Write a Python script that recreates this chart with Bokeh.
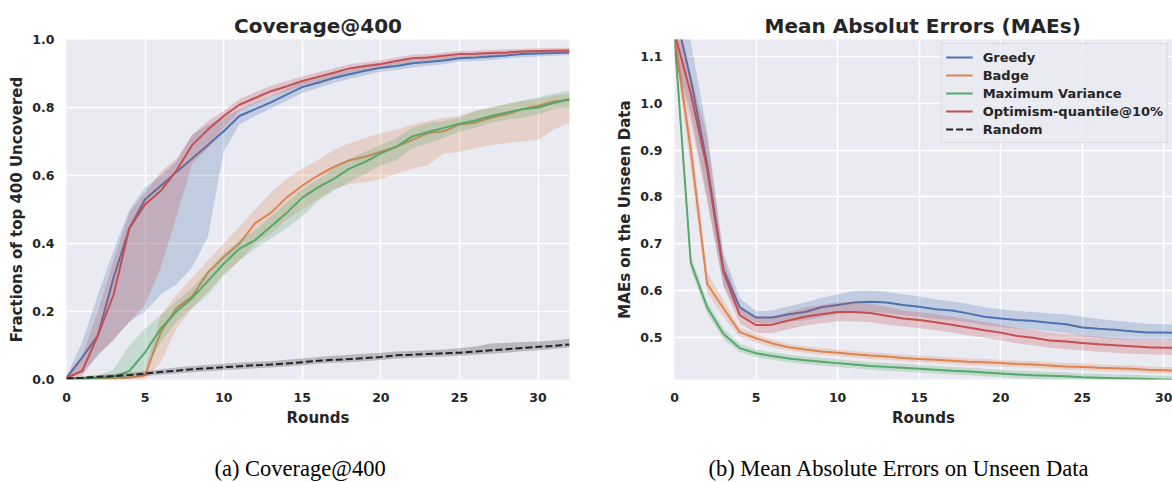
from bokeh.plotting import figure
from bokeh.models import Legend, LegendItem, Range1d, FixedTicker
from bokeh.layouts import row, column
from bokeh.embed import file_html
from bokeh.resources import INLINE

# ---------------- data ----------------
rounds = list(range(33))

series_names = ["Greedy", "Badge", "Maximum Variance", "Optimism-quantile@10%", "Random"]
series_colors = ["#4C72B0", "#DD8452", "#55A868", "#C44E52", "#222222"]
captions = ["(a) Coverage@400", "(b) Mean Absolute Errors on Unseen Data"]

# Coverage@400 (left)
cov_greedy = [0.005, 0.065, 0.13, 0.30, 0.445, 0.53, 0.57, 0.61, 0.65, 0.69, 0.73, 0.775, 0.795, 0.815, 0.838, 0.86, 0.873, 0.887, 0.898, 0.908, 0.917, 0.922, 0.93, 0.934, 0.938, 0.945, 0.947, 0.95, 0.953, 0.957, 0.959, 0.96, 0.962]
cov_greedy_lo = [0.0, 0.02, 0.07, 0.12, 0.17, 0.20, 0.25, 0.28, 0.33, 0.42, 0.67, 0.75, 0.775, 0.797, 0.82, 0.843, 0.857, 0.872, 0.884, 0.895, 0.905, 0.91, 0.918, 0.923, 0.927, 0.935, 0.937, 0.94, 0.944, 0.948, 0.95, 0.952, 0.954]
cov_greedy_hi = [0.01, 0.11, 0.25, 0.38, 0.50, 0.565, 0.60, 0.64, 0.72, 0.75, 0.77, 0.795, 0.815, 0.833, 0.855, 0.875, 0.888, 0.9, 0.91, 0.92, 0.928, 0.933, 0.94, 0.944, 0.948, 0.954, 0.956, 0.959, 0.962, 0.965, 0.967, 0.968, 0.969]

cov_badge = [0.003, 0.003, 0.003, 0.003, 0.005, 0.012, 0.14, 0.21, 0.245, 0.315, 0.36, 0.40, 0.46, 0.49, 0.535, 0.57, 0.60, 0.625, 0.645, 0.655, 0.67, 0.685, 0.705, 0.725, 0.73, 0.75, 0.755, 0.77, 0.78, 0.795, 0.805, 0.818, 0.822]
cov_badge_lo = [0.0, 0.0, 0.0, 0.0, 0.0, 0.0, 0.05, 0.15, 0.21, 0.26, 0.31, 0.35, 0.40, 0.43, 0.47, 0.50, 0.53, 0.56, 0.575, 0.58, 0.59, 0.605, 0.62, 0.63, 0.665, 0.67, 0.68, 0.69, 0.695, 0.70, 0.705, 0.735, 0.755]
cov_badge_hi = [0.005, 0.005, 0.005, 0.005, 0.01, 0.03, 0.19, 0.25, 0.30, 0.35, 0.40, 0.45, 0.50, 0.55, 0.59, 0.62, 0.645, 0.675, 0.695, 0.71, 0.725, 0.735, 0.75, 0.76, 0.77, 0.775, 0.79, 0.80, 0.81, 0.82, 0.825, 0.835, 0.84]

cov_maxvar = [0.003, 0.003, 0.005, 0.008, 0.025, 0.08, 0.15, 0.20, 0.24, 0.29, 0.34, 0.385, 0.41, 0.45, 0.49, 0.535, 0.565, 0.59, 0.62, 0.64, 0.665, 0.685, 0.715, 0.728, 0.74, 0.752, 0.762, 0.775, 0.785, 0.795, 0.80, 0.813, 0.825]
cov_maxvar_lo = [0.0, 0.0, 0.0, 0.0, 0.005, 0.03, 0.11, 0.17, 0.21, 0.25, 0.305, 0.35, 0.385, 0.415, 0.445, 0.48, 0.525, 0.555, 0.58, 0.605, 0.63, 0.645, 0.68, 0.695, 0.71, 0.73, 0.74, 0.755, 0.765, 0.77, 0.78, 0.795, 0.80]
cov_maxvar_hi = [0.005, 0.005, 0.01, 0.03, 0.10, 0.15, 0.19, 0.23, 0.27, 0.32, 0.37, 0.41, 0.44, 0.48, 0.52, 0.56, 0.59, 0.62, 0.65, 0.67, 0.69, 0.71, 0.74, 0.755, 0.76, 0.77, 0.79, 0.80, 0.81, 0.82, 0.83, 0.84, 0.85]

cov_optim = [0.005, 0.025, 0.13, 0.25, 0.445, 0.515, 0.555, 0.615, 0.69, 0.735, 0.775, 0.808, 0.828, 0.848, 0.862, 0.878, 0.89, 0.902, 0.915, 0.922, 0.928, 0.937, 0.945, 0.947, 0.952, 0.957, 0.958, 0.96, 0.962, 0.965, 0.966, 0.967, 0.968]
cov_optim_lo = [0.0, 0.01, 0.075, 0.115, 0.17, 0.22, 0.33, 0.48, 0.635, 0.68, 0.74, 0.79, 0.81, 0.832, 0.847, 0.863, 0.876, 0.889, 0.902, 0.91, 0.917, 0.926, 0.934, 0.937, 0.942, 0.947, 0.949, 0.951, 0.954, 0.957, 0.958, 0.959, 0.96]
cov_optim_hi = [0.01, 0.07, 0.20, 0.35, 0.49, 0.55, 0.61, 0.65, 0.72, 0.76, 0.79, 0.825, 0.845, 0.864, 0.877, 0.892, 0.904, 0.915, 0.927, 0.933, 0.939, 0.947, 0.955, 0.957, 0.961, 0.966, 0.967, 0.969, 0.971, 0.973, 0.974, 0.975, 0.976]

cov_random = [0.003, 0.005, 0.008, 0.010, 0.013, 0.017, 0.022, 0.026, 0.030, 0.033, 0.036, 0.039, 0.042, 0.044, 0.047, 0.051, 0.055, 0.058, 0.060, 0.063, 0.066, 0.071, 0.073, 0.075, 0.077, 0.079, 0.082, 0.086, 0.089, 0.093, 0.096, 0.099, 0.103]
cov_random_lo = [0.0, 0.001, 0.003, 0.005, 0.007, 0.010, 0.014, 0.018, 0.021, 0.024, 0.027, 0.030, 0.033, 0.035, 0.038, 0.042, 0.046, 0.049, 0.051, 0.054, 0.057, 0.062, 0.064, 0.066, 0.068, 0.070, 0.073, 0.076, 0.079, 0.083, 0.086, 0.090, 0.094]
cov_random_hi = [0.006, 0.009, 0.013, 0.016, 0.020, 0.024, 0.030, 0.035, 0.040, 0.043, 0.046, 0.049, 0.052, 0.054, 0.058, 0.062, 0.066, 0.070, 0.073, 0.076, 0.079, 0.082, 0.084, 0.086, 0.088, 0.092, 0.097, 0.106, 0.108, 0.110, 0.112, 0.115, 0.120]

# MAEs on unseen data (right)
mae_greedy = [1.20, 1.05, 0.87, 0.645, 0.565, 0.543, 0.543, 0.55, 0.555, 0.565, 0.57, 0.575, 0.577, 0.575, 0.57, 0.566, 0.561, 0.558, 0.552, 0.545, 0.541, 0.538, 0.536, 0.532, 0.529, 0.522, 0.519, 0.517, 0.514, 0.511, 0.511, 0.51, 0.51]
mae_greedy_lo = [1.10, 0.98, 0.80, 0.61, 0.55, 0.532, 0.53, 0.535, 0.537, 0.545, 0.55, 0.553, 0.555, 0.553, 0.548, 0.545, 0.54, 0.538, 0.533, 0.527, 0.523, 0.52, 0.518, 0.514, 0.51, 0.503, 0.50, 0.498, 0.496, 0.495, 0.494, 0.493, 0.493]
mae_greedy_hi = [1.30, 1.13, 0.94, 0.68, 0.585, 0.556, 0.558, 0.567, 0.575, 0.585, 0.592, 0.60, 0.601, 0.598, 0.593, 0.588, 0.582, 0.578, 0.572, 0.565, 0.561, 0.557, 0.555, 0.552, 0.55, 0.545, 0.54, 0.537, 0.533, 0.53, 0.529, 0.528, 0.528]

mae_badge = [1.14, 0.90, 0.615, 0.563, 0.512, 0.499, 0.488, 0.480, 0.475, 0.471, 0.468, 0.465, 0.462, 0.460, 0.457, 0.455, 0.453, 0.451, 0.449, 0.448, 0.446, 0.444, 0.443, 0.441, 0.439, 0.438, 0.436, 0.435, 0.434, 0.432, 0.431, 0.430, 0.430]
mae_badge_lo = [1.12, 0.86, 0.595, 0.545, 0.502, 0.490, 0.480, 0.473, 0.468, 0.464, 0.461, 0.458, 0.455, 0.453, 0.450, 0.448, 0.446, 0.444, 0.442, 0.441, 0.439, 0.437, 0.436, 0.434, 0.432, 0.431, 0.429, 0.428, 0.427, 0.425, 0.424, 0.423, 0.423]
mae_badge_hi = [1.16, 0.94, 0.64, 0.58, 0.522, 0.508, 0.496, 0.487, 0.482, 0.478, 0.475, 0.472, 0.469, 0.467, 0.464, 0.462, 0.460, 0.458, 0.456, 0.455, 0.453, 0.451, 0.450, 0.448, 0.446, 0.445, 0.443, 0.442, 0.441, 0.439, 0.438, 0.437, 0.437]

mae_maxvar = [1.14, 0.66, 0.565, 0.508, 0.478, 0.467, 0.461, 0.456, 0.452, 0.449, 0.446, 0.443, 0.440, 0.438, 0.436, 0.434, 0.432, 0.430, 0.428, 0.426, 0.424, 0.422, 0.420, 0.419, 0.418, 0.416, 0.415, 0.414, 0.413, 0.412, 0.411, 0.410, 0.410]
mae_maxvar_lo = [1.12, 0.645, 0.552, 0.497, 0.469, 0.459, 0.453, 0.448, 0.444, 0.441, 0.438, 0.435, 0.432, 0.430, 0.428, 0.426, 0.424, 0.422, 0.420, 0.418, 0.416, 0.414, 0.412, 0.411, 0.410, 0.408, 0.407, 0.406, 0.405, 0.404, 0.403, 0.402, 0.402]
mae_maxvar_hi = [1.16, 0.675, 0.578, 0.519, 0.487, 0.475, 0.469, 0.464, 0.460, 0.457, 0.454, 0.451, 0.448, 0.446, 0.444, 0.442, 0.440, 0.438, 0.436, 0.434, 0.432, 0.430, 0.428, 0.427, 0.426, 0.424, 0.423, 0.422, 0.421, 0.420, 0.419, 0.418, 0.418]

mae_optim = [1.15, 1.02, 0.86, 0.64, 0.548, 0.527, 0.528, 0.537, 0.545, 0.55, 0.555, 0.555, 0.553, 0.547, 0.541, 0.538, 0.533, 0.528, 0.522, 0.516, 0.511, 0.504, 0.50, 0.494, 0.492, 0.489, 0.486, 0.484, 0.482, 0.48, 0.479, 0.478, 0.478]
mae_optim_lo = [1.10, 0.96, 0.79, 0.61, 0.53, 0.51, 0.51, 0.518, 0.526, 0.531, 0.535, 0.535, 0.533, 0.528, 0.524, 0.521, 0.516, 0.511, 0.505, 0.50, 0.495, 0.488, 0.484, 0.478, 0.476, 0.473, 0.47, 0.468, 0.466, 0.465, 0.464, 0.463, 0.463]
mae_optim_hi = [1.20, 1.06, 0.93, 0.67, 0.565, 0.545, 0.545, 0.555, 0.565, 0.57, 0.575, 0.577, 0.573, 0.566, 0.558, 0.555, 0.55, 0.545, 0.54, 0.533, 0.528, 0.521, 0.517, 0.511, 0.508, 0.505, 0.502, 0.50, 0.497, 0.495, 0.494, 0.493, 0.493]

cov_xticks = [0, 5, 10, 15, 20, 25, 30]
cov_yticks = [0.0, 0.2, 0.4, 0.6, 0.8, 1.0]
cov_ytick_labels = ["0.0", "0.2", "0.4", "0.6", "0.8", "1.0"]
mae_xticks = [0, 5, 10, 15, 20, 25, 30]
mae_yticks = [0.5, 0.6, 0.7, 0.8, 0.9, 1.0, 1.1]
mae_ytick_labels = ["0.5", "0.6", "0.7", "0.8", "0.9", "1.0", "1.1"]

# ---------------- styling helpers ----------------
FONT = "DejaVu Sans"
TXT = "#262626"
BG = "#EAEAF2"


def style(p, xticks, yticks, ylabels, xlabel, ylabel, title):
    p.background_fill_color = BG
    p.border_fill_color = "white"
    p.outline_line_color = None
    p.xaxis.ticker = FixedTicker(ticks=xticks)
    p.yaxis.ticker = FixedTicker(ticks=yticks)
    p.yaxis.major_label_overrides = {t: l for t, l in zip(yticks, ylabels)}
    p.xgrid.grid_line_color = "white"
    p.ygrid.grid_line_color = "white"
    p.xgrid.grid_line_width = 1.5
    p.ygrid.grid_line_width = 1.5
    for ax in p.axis:
        ax.axis_line_color = None
        ax.major_tick_line_color = None
        ax.minor_tick_line_color = None
        ax.major_tick_out = 0
        ax.major_tick_in = 0
        ax.major_label_text_font = FONT
        ax.major_label_text_font_style = "bold"
        ax.major_label_text_font_size = "12.5px"
        ax.major_label_text_color = TXT
        ax.axis_label_text_font = FONT
        ax.axis_label_text_font_style = "bold"
        ax.axis_label_text_font_size = "15px"
        ax.axis_label_text_color = TXT
    p.xaxis.axis_label = xlabel
    p.yaxis.axis_label = ylabel
    p.xaxis.major_label_standoff = 13
    p.yaxis.major_label_standoff = 12
    p.xaxis.axis_label_standoff = 4
    p.yaxis.axis_label_standoff = 3
    p.title.text = title
    p.title.text_font = FONT
    p.title.text_font_style = "bold"
    p.title.text_font_size = "20px"
    p.title.text_color = TXT
    p.title.standoff = 4


def band_and_line(p, lo, hi, y, color, dash="solid"):
    p.varea(x=rounds, y1=lo, y2=hi, fill_color=color, fill_alpha=0.25)
    return p.line(x=rounds, y=y, line_color=color, line_width=2, line_dash=dash)


def caption_fig(width, text, offset):
    c = figure(width=width, height=52, output_backend="svg", toolbar_location=None,
               min_border_left=0, min_border_right=0, min_border_top=50, min_border_bottom=0)
    c.axis.visible = False
    c.grid.visible = False
    c.outline_line_color = None
    c.background_fill_color = "white"
    c.border_fill_color = "white"
    c.title.text = text
    c.title.align = "left"
    c.title.offset = offset
    c.title.standoff = 0
    c.title.text_font = "Liberation Serif"
    c.title.text_font_style = "normal"
    c.title.text_font_size = "22.5px"
    c.title.text_color = "black"
    return c


# ---------------- left: Coverage@400 ----------------
p1 = figure(width=590, height=430, output_backend="svg", toolbar_location=None,
            x_range=Range1d(0, 32), y_range=Range1d(0, 1.0),
            min_border_left=66, min_border_right=21, min_border_top=39, min_border_bottom=51)
style(p1, cov_xticks, cov_yticks, cov_ytick_labels, "Rounds", "Fractions of top 400 Uncovered", "Coverage@400")
p1.title.align = "center"

cov_series = [
    (cov_greedy_lo, cov_greedy_hi, cov_greedy),
    (cov_badge_lo, cov_badge_hi, cov_badge),
    (cov_maxvar_lo, cov_maxvar_hi, cov_maxvar),
    (cov_optim_lo, cov_optim_hi, cov_optim),
]
for (lo, hi, y), c in zip(cov_series, series_colors[:4]):
    band_and_line(p1, lo, hi, y, c)
band_and_line(p1, cov_random_lo, cov_random_hi, cov_random, series_colors[4], dash="7 3")

# ---------------- right: MAEs ----------------
p2 = figure(width=582, height=430, output_backend="svg", toolbar_location=None,
            x_range=Range1d(0, 30.53), y_range=Range1d(0.4111, 1.1356),
            min_border_left=84, min_border_right=0, min_border_top=39, min_border_bottom=51)
style(p2, mae_xticks, mae_yticks, mae_ytick_labels, "Rounds", "MAEs on the Unseen Data", "Mean Absolut Errors (MAEs)")
p2.title.align = "left"
p2.title.offset = 90

mae_series = [
    (mae_greedy_lo, mae_greedy_hi, mae_greedy),
    (mae_badge_lo, mae_badge_hi, mae_badge),
    (mae_maxvar_lo, mae_maxvar_hi, mae_maxvar),
    (mae_optim_lo, mae_optim_hi, mae_optim),
]
lines = []
for (lo, hi, y), c in zip(mae_series, series_colors[:4]):
    lines.append(band_and_line(p2, lo, hi, y, c))
# Random is listed in the legend but has no visible curve in this panel
rand_line = p2.line(x=rounds, y=cov_random, line_color=series_colors[4], line_width=2, line_dash="7 3")
rand_line.visible = False
lines.append(rand_line)

legend = Legend(items=[LegendItem(label=n, renderers=[r]) for n, r in zip(series_names, lines)],
                location="top_right", margin=4, padding=4, spacing=0,
                glyph_width=27, glyph_height=18, label_height=18, label_standoff=10,
                label_text_font=FONT, label_text_font_style="bold", label_text_font_size="13px",
                label_text_color=TXT, background_fill_color=BG, background_fill_alpha=0.8,
                border_line_color="#cccccc", border_line_width=1, click_policy="none")
p2.add_layout(legend)

c1 = caption_fig(590, captions[0], 214)
c2 = caption_fig(582, captions[1], 118)

layout = column(row(p1, p2), row(c1, c2))
open("out.html", "w").write(file_html(layout, INLINE))
